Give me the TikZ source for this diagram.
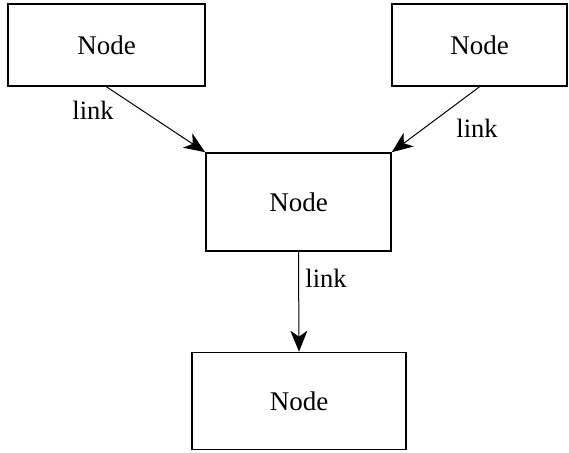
\documentclass[tikz,border=0pt]{standalone}
\usepackage{fontspec}
\setmainfont{Liberation Serif}
\usetikzlibrary{arrows.meta}
\begin{document}
\begin{tikzpicture}[x=1pt,y=-1pt,
  box/.style={draw, line width=1.6pt, rectangle, inner sep=0pt, font=\fontsize{27}{32}\selectfont},
  lbl/.style={inner sep=0pt, font=\fontsize{26.5}{32}\selectfont},
  arr/.style={line width=1pt, -{Stealth[length=21pt,width=17pt,inset=6pt]}}]
\useasboundingbox (0,0) rectangle (569,452);
\node[box, minimum width=197pt, minimum height=82pt] (tl) at (106.5,45) {Node};
\node[box, minimum width=175pt, minimum height=82pt] (tr) at (479.5,45) {Node};
\node[box, minimum width=185pt, minimum height=98pt] (mid) at (298.5,202) {Node};
\node[box, minimum width=214pt, minimum height=97pt] (bot) at (299,401) {Node};
\draw[arr] (tl.south) -- (mid.north west);
\draw[arr] (tr.south) -- (mid.north east);
\draw[arr] (mid.south) -- (bot.north);
\node[lbl] (l1) at (93,110) {link};
\node[lbl] (l2) at (477,128) {link};
\node[lbl] (l3) at (326,278) {link};
\end{tikzpicture}
\end{document}
